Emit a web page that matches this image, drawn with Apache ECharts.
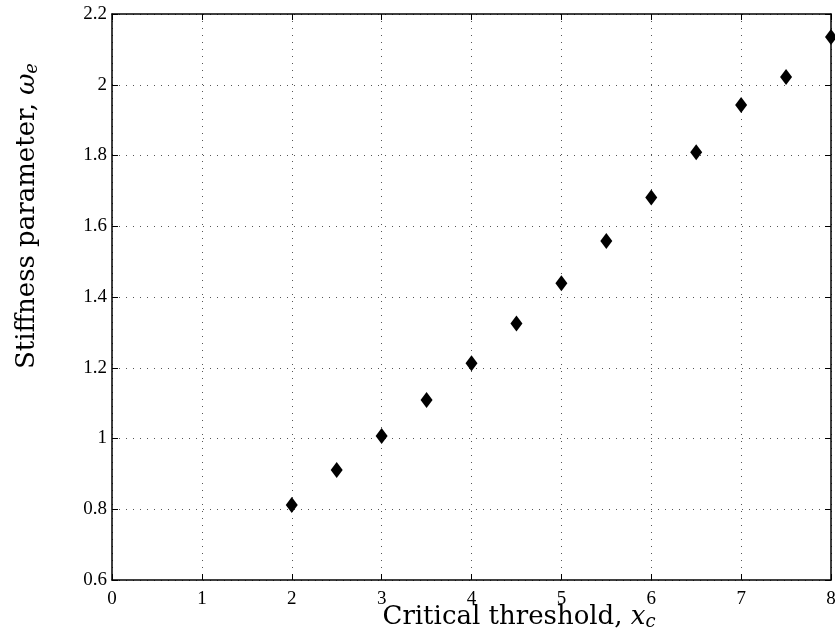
<!DOCTYPE html>
<html>
<head>
<meta charset="utf-8">
<script src="https://cdn.jsdelivr.net/npm/echarts@6/dist/echarts.min.js"></script>
<style>
  html, body { margin: 0; padding: 0; background: #fff; }
  #chart { width: 835px; height: 639px; }
</style>
</head>
<body>
<div id="chart"></div>
<script>
// Critical threshold x_c and the fitted stiffness parameter ω_e
const thresholds = [2, 2.5, 3, 3.5, 4, 4.5, 5, 5.5, 6, 6.5, 7, 7.5, 8];
const stiffness = [0.812, 0.911, 1.007, 1.109, 1.213, 1.325, 1.439, 1.558, 1.681, 1.809, 1.943, 2.022, 2.135];

const xRange = [0, 8, 1];
const yRange = [0.6, 2.2, 0.2];

const xTitle = '{n|Critical threshold, }{i|x}{s|c}';
const yTitle = '{n|Stiffness parameter, }{i|ω}{s|e}';

const serif = '"Liberation Serif", "DejaVu Serif", serif';
const titleFont = '"DejaVu Serif", "Liberation Serif", serif';

const points = thresholds.map((x, i) => [x, stiffness[i]]);

const chart = echarts.init(document.getElementById('chart'), null, { renderer: 'canvas' });

const gridDots = { show: true, lineStyle: { color: '#555', width: 1, type: [1, 6] } };
const frameLine = { show: true, onZero: false, lineStyle: { color: '#000', width: 1.5 } };
const inTicks = { show: true, inside: true, length: 6, lineStyle: { color: '#000', width: 1 } };
const labelFmt = v => String(Math.round(v * 10) / 10);

const titleRich = {
  n: { fontFamily: titleFont, fontSize: 26, color: '#000' },
  i: { fontFamily: titleFont, fontSize: 26, fontStyle: 'italic', color: '#000' },
  s: { fontFamily: titleFont, fontSize: 18, fontStyle: 'italic', color: '#000', padding: [10, 0, 0, 0] }
};

chart.setOption({
  backgroundColor: '#fff',
  animation: false,
  grid: { left: 112, right: 4, top: 14, bottom: 59, show: false, containLabel: false, outerBoundsMode: 'none' },
  xAxis: [
    {
      type: 'value', min: xRange[0], max: xRange[1], interval: xRange[2],
      position: 'bottom',
      axisLine: frameLine,
      axisTick: inTicks,
      axisLabel: { color: '#000', fontFamily: serif, fontSize: 19, margin: 10, formatter: labelFmt },
      splitLine: gridDots
    },
    {
      type: 'value', min: xRange[0], max: xRange[1], interval: xRange[2],
      position: 'top',
      axisLine: frameLine,
      axisTick: inTicks,
      axisLabel: { show: false },
      splitLine: { show: false }
    }
  ],
  yAxis: [
    {
      type: 'value', min: yRange[0], max: yRange[1], interval: yRange[2],
      position: 'left',
      axisLine: frameLine,
      axisTick: inTicks,
      axisLabel: { color: '#000', fontFamily: serif, fontSize: 19, margin: 5, formatter: labelFmt },
      splitLine: gridDots
    },
    {
      type: 'value', min: yRange[0], max: yRange[1], interval: yRange[2],
      position: 'right',
      axisLine: frameLine,
      axisTick: inTicks,
      axisLabel: { show: false },
      splitLine: { show: false }
    }
  ],
  graphic: [
    {
      type: 'text', x: 519, y: 617,
      style: { text: xTitle, rich: titleRich, align: 'center', verticalAlign: 'middle' }
    },
    {
      type: 'text', x: 27, y: 216, rotation: Math.PI / 2,
      style: { text: yTitle, rich: titleRich, align: 'center', verticalAlign: 'middle' }
    }
  ],
  series: [
    {
      type: 'scatter',
      xAxisIndex: 0,
      yAxisIndex: 0,
      data: points,
      symbol: 'diamond',
      symbolSize: [12, 16],
      itemStyle: { color: '#000', opacity: 1 },
      clip: false
    }
  ]
});
</script>
</body>
</html>
